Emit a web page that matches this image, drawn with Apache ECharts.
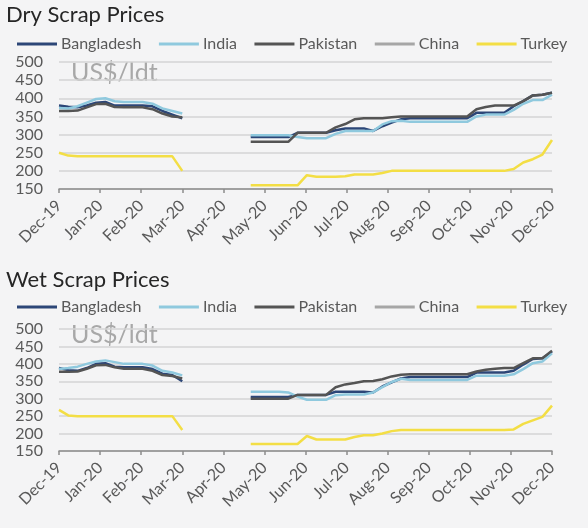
<!DOCTYPE html>
<html><head><meta charset="utf-8">
<script src="https://cdn.jsdelivr.net/npm/echarts@6/dist/echarts.min.js"></script>
<style>html,body{margin:0;padding:0;background:#f4f4f5;}#c{width:588px;height:528px;}</style>
</head><body><div id="c"></div>
<script>
const monthLabels = ['Dec-19','Jan-20','Feb-20','Mar-20','Apr-20','May-20','Jun-20','Jul-20','Aug-20','Sep-20','Oct-20','Nov-20','Dec-20'];
const countries = ['Bangladesh','India','Pakistan','China','Turkey'];
const dates1 = ['2019-12-03','2019-12-10','2019-12-17','2019-12-24','2019-12-31','2020-01-07','2020-01-14','2020-01-21','2020-01-28','2020-02-04','2020-02-11','2020-02-18','2020-02-25','2020-03-03'];
const dates2 = ['2020-04-23','2020-04-30','2020-05-07','2020-05-14','2020-05-21','2020-05-28','2020-06-04','2020-06-11','2020-06-18','2020-06-25','2020-07-02','2020-07-09','2020-07-16','2020-07-23','2020-07-30','2020-08-06','2020-08-13','2020-08-20','2020-08-27','2020-09-03','2020-09-10','2020-09-17','2020-09-24','2020-10-01','2020-10-08','2020-10-15','2020-10-22','2020-10-29','2020-11-05','2020-11-12','2020-11-19','2020-11-26','2020-12-03'];

// Dry scrap
const dryBangladesh1 = [380,377,375,380,388,390,380,380,380,380,378,365,355,345];
const dryIndia1      = [373,372,378,388,398,400,392,390,390,390,385,372,365,358];
const dryPakistan1   = [365,365,366,375,384,385,376,375,375,375,370,358,350,348];
const dryTurkey1     = [250,242,240,240,240,240,240,240,240,240,240,240,240,200];
const dryBangladesh2 = [293,293,293,293,293,305,305,305,305,312,317,317,317,310,323,333,342,345,345,345,345,345,345,345,360,360,360,360,378,392,408,410,415];
const dryIndia2      = [298,298,298,298,298,293,290,290,290,302,310,310,310,310,328,337,338,335,335,335,335,335,335,335,350,355,355,355,368,385,395,395,410];
const dryPakistan2   = [280,280,280,280,280,305,305,305,305,320,329,342,345,345,345,348,350,350,350,350,350,350,350,350,370,376,380,380,380,392,408,410,415];
const dryTurkey2     = [160,160,160,160,160,160,188,184,184,184,185,190,190,190,194,200,200,200,200,200,200,200,200,200,200,200,200,200,205,223,232,245,285];

// Wet scrap
const wetBangladesh1 = [388,382,380,388,400,402,392,390,390,390,385,372,368,350];
const wetIndia1      = [385,388,392,400,407,410,405,400,400,400,395,380,375,367];
const wetPakistan1   = [377,377,378,386,396,397,390,386,386,386,380,368,365,358];
const wetTurkey1     = [268,252,250,250,250,250,250,250,250,250,250,250,250,210];
const wetBangladesh2 = [305,305,305,305,305,311,311,311,311,320,320,320,320,318,335,347,358,362,362,362,362,362,362,362,375,375,375,375,380,398,414,416,435];
const wetIndia2      = [320,320,320,320,318,306,297,297,297,310,312,312,312,318,333,348,357,354,354,354,354,354,354,354,366,366,366,366,370,385,402,407,430];
const wetPakistan2   = [300,300,300,300,300,311,311,311,311,333,341,345,350,351,356,364,369,370,370,370,370,370,370,370,378,383,386,388,388,402,416,416,438];
const wetTurkey2     = [170,170,170,170,170,170,193,183,183,183,183,190,195,195,200,207,210,210,210,210,210,210,210,210,210,210,210,210,212,228,238,248,280];

const colors = {Bangladesh:'#2c4677', India:'#8fc9de', Pakistan:'#545454', China:'#a6a6a6', Turkey:'#f3de45'};

function pos(s){const p=s.split('-').map(Number);const dim=new Date(p[0],p[1],0).getDate();return (p[0]-2019)*12+(p[1]-12)+(p[2]-3)/dim;}
function pts(dates, vals){return dates.map((d,i)=>[pos(d), vals[i]]);}

const FONT = 'Lato';
const panels = [
  {title:'Dry Scrap Prices', top:62, height:127, titleTop:4, legendTop:36, unitTop:60,
   data:{Bangladesh:[dryBangladesh1,dryBangladesh2], India:[dryIndia1,dryIndia2], Pakistan:[dryPakistan1,dryPakistan2], China:[[],[]], Turkey:[dryTurkey1,dryTurkey2]}},
  {title:'Wet Scrap Prices', top:329, height:122, titleTop:269, legendTop:299, unitTop:322,
   data:{Bangladesh:[wetBangladesh1,wetBangladesh2], India:[wetIndia1,wetIndia2], Pakistan:[wetPakistan1,wetPakistan2], China:[[],[]], Turkey:[wetTurkey1,wetTurkey2]}}
];

const option = {
  backgroundColor:'#f4f4f5',
  animation:false,
  textStyle:{fontFamily:FONT},
  title: panels.map(p=>({text:p.title, left:6, top:p.titleTop, padding:0, textStyle:{fontFamily:FONT, fontSize:22, fontWeight:'normal', color:'#262626'}})),
  legend: panels.map(p=>({data:countries.map(c=>({name:c, icon:'rect'})), left:17, top:p.legendTop, itemWidth:40, itemHeight:3, itemGap:17.5, selectedMode:false, padding:0,
    textStyle:{fontFamily:FONT, fontSize:16, color:'#595959', padding:[0,0,0,-1]}})),
  grid: panels.map(p=>({left:59, width:493, top:p.top, height:p.height})),
  xAxis: panels.map((p,i)=>({type:'value', gridIndex:i, min:0, max:12, interval:1,
    axisLine:{lineStyle:{color:'#8c8c8c', width:1.5}},
    axisTick:{show:true, length:4, lineStyle:{color:'#8c8c8c', width:1.5}},
    splitLine:{show:false},
    axisLabel:{rotate:45, fontSize:16, color:'#595959', margin:14, showMinLabel:true, showMaxLabel:true, fontFamily:FONT,
      formatter:v=>monthLabels[Math.round(v)]}})),
  yAxis: panels.map((p,i)=>({type:'value', gridIndex:i, min:150, max:500, interval:50,
    axisLine:{show:false}, axisTick:{show:false},
    splitLine:{lineStyle:{color:'#d4d4d4', width:1.5}},
    axisLabel:{fontSize:16, color:'#595959', margin:16, fontFamily:FONT}})),
  graphic: panels.map(p=>({type:'text', left:71, top:p.unitTop, style:{text:'US$/ldt', fontSize:25, fill:'#a8a8a8', fontFamily:FONT}})),
  series: []
};
panels.forEach((p,i)=>{
  countries.forEach(c=>{
    [dates1,dates2].forEach((dts,k)=>{
      option.series.push({type:'line', name:c, xAxisIndex:i, yAxisIndex:i, showSymbol:false, symbol:'none',
        itemStyle:{color:colors[c]}, lineStyle:{color:colors[c], width:2.5}, data:pts(dts, p.data[c][k])});
    });
  });
});
const chart = echarts.init(document.getElementById('c'));
chart.setOption(option);
</script></body></html>
